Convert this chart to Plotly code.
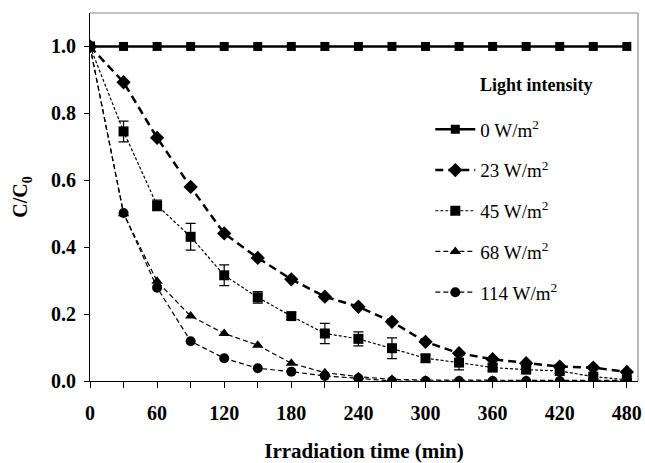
import plotly.graph_objects as go

time_min = [0, 30, 60, 90, 120, 150, 180, 210, 240, 270, 300, 330, 360, 390, 420, 450, 480]

c_0w = [1.0] * 17
c_23w = [1.0, 0.893, 0.727, 0.580, 0.441, 0.368, 0.304, 0.252, 0.222, 0.177, 0.117, 0.083, 0.065, 0.053, 0.043, 0.040, 0.027]
c_45w = [1.0, 0.746, 0.525, 0.431, 0.316, 0.250, 0.194, 0.142, 0.126, 0.098, 0.068, 0.055, 0.040, 0.034, 0.030, 0.013, 0.004]
err_45w = [0.0, 0.031, 0.016, 0.040, 0.031, 0.017, 0.010, 0.030, 0.021, 0.031, 0.010, 0.022, 0.010, 0.008, 0.008, 0.006, 0.004]
c_68w = [1.0, 0.500, 0.298, 0.194, 0.142, 0.107, 0.053, 0.025, 0.013, 0.005, 0.003, 0.002, 0.002, 0.002, 0.002, 0.002, 0.002]
c_114w = [1.0, 0.502, 0.279, 0.119, 0.068, 0.038, 0.028, 0.015, 0.008, 0.0, 0.0, 0.0, 0.0, 0.0, 0.0, 0.0, 0.0]

legend_names = ["0 W/m<sup>2</sup>", "23 W/m<sup>2</sup>", "45 W/m<sup>2</sup>", "68 W/m<sup>2</sup>", "114 W/m<sup>2</sup>"]
x_tick_vals = [0, 60, 120, 180, 240, 300, 360, 420, 480]
y_tick_vals = [0.0, 0.2, 0.4, 0.6, 0.8, 1.0]

SERIF = "Liberation Serif, Times New Roman, serif"

fig = go.Figure()

fig.add_trace(go.Scatter(
    x=time_min, y=c_0w, name=legend_names[0], legendgroup="a",
    mode="lines+markers",
    line=dict(color="black", width=2.5, dash="solid"),
    marker=dict(symbol="square", size=9, color="black"),
))
fig.add_trace(go.Scatter(
    x=time_min, y=c_23w, name=legend_names[1], legendgroup="b",
    mode="lines+markers",
    line=dict(color="black", width=2.5, dash="8px,5px"),
    marker=dict(symbol="diamond", size=11, color="black"),
))
fig.add_trace(go.Scatter(
    x=time_min, y=c_45w, name=legend_names[2], legendgroup="c",
    mode="lines+markers",
    line=dict(color="black", width=1.2, dash="3px,2px"),
    marker=dict(symbol="square", size=10, color="black"),
    error_y=dict(type="data", array=err_45w, visible=True, color="black", thickness=1.2, width=5),
))
fig.add_trace(go.Scatter(
    x=time_min, y=c_68w, name=legend_names[3], legendgroup="d",
    mode="lines+markers",
    line=dict(color="black", width=1.2, dash="5px,3px"),
    marker=dict(symbol="triangle-up", size=10, color="black"),
))
fig.add_trace(go.Scatter(
    x=time_min, y=c_114w, name=legend_names[4], legendgroup="e",
    mode="lines+markers",
    line=dict(color="black", width=1.2, dash="5px,3px"),
    marker=dict(symbol="circle", size=10, color="black"),
))

fig.update_layout(
    width=645, height=463,
    margin=dict(l=90, r=7, t=13, b=82, autoexpand=False),
    paper_bgcolor="white", plot_bgcolor="white",
    font=dict(family=SERIF, color="black", size=19),
    showlegend=True,
    legend=dict(
        x=0.621, y=0.735, xanchor="left", yanchor="top",
        bgcolor="rgba(0,0,0,0)", borderwidth=0,
        font=dict(family=SERIF, size=19, color="black"),
        tracegroupgap=13, itemwidth=40,
    ),
    xaxis=dict(
        range=[0, 490], tickvals=x_tick_vals, ticktext=[str(v) for v in x_tick_vals],
        ticks="outside", ticklen=6, tickwidth=1, tickcolor="black",
        minor=dict(dtick=30, tick0=0, ticks="outside", ticklen=6, tickcolor="black"),
        showline=True, linecolor="black", linewidth=1.2, automargin=False,
        showgrid=False, zeroline=False, ticklabelstandoff=8,
        tickfont=dict(family=SERIF, size=20, color="black", weight="bold"),
        title=dict(text="<b>Irradiation time (min)</b>", font=dict(family=SERIF, size=21, color="black"), standoff=20),
    ),
    yaxis=dict(
        range=[0, 1.1], tickvals=y_tick_vals, ticktext=["%.1f" % v for v in y_tick_vals],
        ticks="outside", ticklen=5, tickwidth=1, tickcolor="black",
        showline=True, linecolor="black", linewidth=1.2, automargin=False,
        showgrid=False, zeroline=False, ticklabelstandoff=4,
        tickfont=dict(family=SERIF, size=20, color="black", weight="bold"),
        title=dict(text="<b>C/C<sub>0</sub></b>", font=dict(family=SERIF, size=20, color="black"), standoff=17),
    ),
    shapes=[
        dict(type="line", xref="paper", yref="paper", x0=0, x1=1, y0=1, y1=1, line=dict(color="#888888", width=1.2)),
        dict(type="line", xref="paper", yref="paper", x0=1, x1=1, y0=0, y1=1, line=dict(color="#888888", width=1.2)),
    ],
    annotations=[
        dict(text="<b>Light intensity</b>", xref="paper", yref="paper", x=0.708, y=0.805,
             xanchor="left", yanchor="middle", showarrow=False,
             font=dict(family=SERIF, size=18, color="black")),
    ],
)

fig.write_html("out.html")
